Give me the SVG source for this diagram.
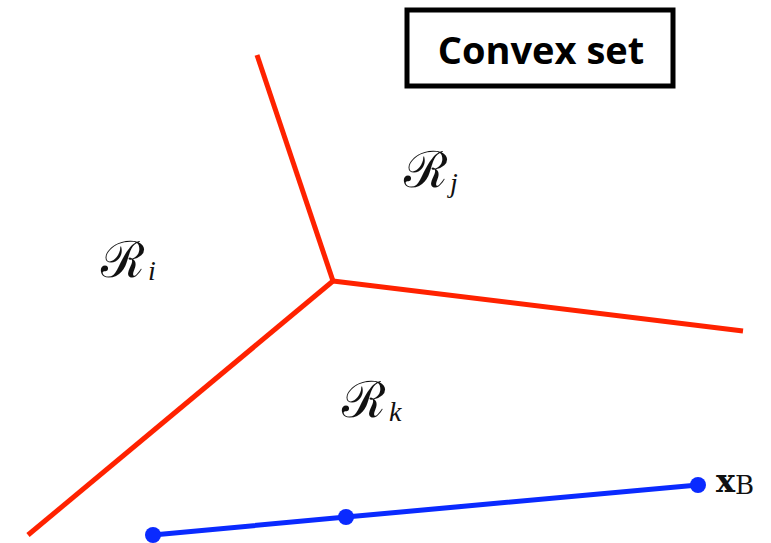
<svg xmlns="http://www.w3.org/2000/svg" width="771" height="543" viewBox="0 0 771 543">
<style>
.red{stroke:#ff2200;stroke-width:5;fill:none;stroke-linecap:butt}
.blue{stroke:#0a2aff;stroke-width:5;fill:none}
.dot{fill:#0a2aff}
.math{font-family:"DejaVu Serif","Liberation Serif",serif;fill:#111;font-size:50px}
.sub{font-family:"Liberation Serif","DejaVu Serif",serif;font-style:italic;font-size:28px}
</style>
<rect width="771" height="543" fill="#fff"/>
<g id="title">
<rect x="407" y="10" width="266" height="76" fill="#fff" stroke="#000" stroke-width="5"/>
<text x="541" y="64" text-anchor="middle" font-family="Open Sans, Liberation Sans, sans-serif" font-weight="bold" font-size="38" fill="#000">Convex set</text>
</g>
<g id="connectors">
<polyline class="red" points="257,55 333,281"/>
<polyline class="red" points="333,281 743,331"/>
<polyline class="red" points="333,281 28,535"/>
<polyline class="blue" points="153,535 346,517 698,485"/>
</g>
<g id="segment-points">
<circle class="dot" cx="153" cy="535" r="8"/>
<circle class="dot" cx="346" cy="517" r="8"/>
<circle class="dot" cx="698" cy="485" r="8"/>
</g>
<g id="Ri"><text class="math" x="101" y="277">ℛ<tspan class="sub" dx="3" dy="3">i</tspan></text></g>
<g id="Rj"><text class="math" x="404" y="187">ℛ<tspan class="sub" dx="2" dy="5">j</tspan></text></g>
<g id="Rk"><text class="math" x="342" y="417">ℛ<tspan class="sub" dx="3" dy="4">k</tspan></text></g>
<g id="xB"><text x="716" y="492" font-family="DejaVu Serif, Liberation Serif, serif" font-weight="bold" font-size="32" fill="#111">x<tspan font-weight="normal" font-size="26" dy="2">B</tspan></text></g>
</svg>
